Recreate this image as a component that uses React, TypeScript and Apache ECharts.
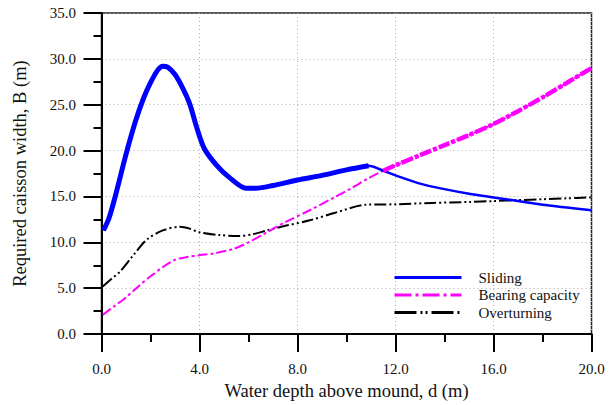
import React, { useEffect, useRef } from "react";
import * as echarts from "echarts";

const xTicks = [0, 4, 8, 12, 16, 20];
const yTicks = [0, 5, 10, 15, 20, 25, 30, 35];

const slidingData: [number, number][] = [
  [0.08, 11.3], [0.3, 12.6], [0.55, 14.9], [1.0, 19.6], [1.4, 23.3], [1.7, 25.6],
  [2.0, 27.4], [2.3, 28.8], [2.5, 29.2], [2.7, 29.1], [3.0, 28.3], [3.3, 26.9],
  [3.6, 25.1], [3.9, 22.4], [4.2, 20.2], [4.7, 18.4], [5.25, 17.0], [5.9, 15.9],
  [6.3, 15.9], [7.0, 16.2], [8.0, 16.8], [9.0, 17.3], [10.0, 17.9], [10.9, 18.35],
  [11.5, 17.8], [12.0, 17.3], [13.0, 16.4], [14.0, 15.8], [15.0, 15.3], [16.0, 14.9],
  [17.0, 14.5], [18.0, 14.1], [19.0, 13.8], [20.0, 13.5],
];

const bearingData: [number, number][] = [
  [0.05, 2.1], [0.5, 3.0], [1.0, 4.0], [1.5, 5.2], [2.0, 6.3], [2.5, 7.3], [3.0, 8.1],
  [3.5, 8.4], [4.0, 8.6], [4.6, 8.8], [5.4, 9.3], [6.0, 10.0], [6.75, 11.1], [7.5, 12.2],
  [8.5, 13.5], [9.5, 14.9], [10.2, 15.9], [10.9, 17.0], [11.5, 17.8], [12.0, 18.4],
  [13.0, 19.5], [14.0, 20.6], [15.0, 21.7], [16.0, 22.9], [17.0, 24.3], [18.0, 25.8],
  [19.0, 27.4], [20.0, 29.0],
];

const overturningData: [number, number][] = [
  [0.05, 5.2], [0.4, 6.0], [0.75, 6.8], [1.3, 8.6], [1.85, 10.3], [2.5, 11.3], [3.2, 11.7],
  [3.6, 11.5], [4.0, 11.1], [4.8, 10.8], [5.6, 10.7], [6.2, 10.9], [6.75, 11.3], [7.5, 11.8],
  [8.5, 12.4], [9.5, 13.2], [10.8, 14.1], [12.0, 14.15], [13.5, 14.3], [15.0, 14.4],
  [16.0, 14.5], [17.0, 14.6], [18.0, 14.7], [19.0, 14.8], [20.0, 14.9],
];

const slidingThickEnd = 10.9;
const bearingThickStart = 11.5;

const FONT = "Liberation Serif, Times New Roman, serif";

export default function App() {
  const ref = useRef<HTMLDivElement>(null);
  useEffect(() => {
    if (!ref.current) return;
    const chart = echarts.init(ref.current, undefined, { renderer: "svg" });
    const axisCommon = {
      axisLine: { show: true, onZero: false, lineStyle: { color: "#000", width: 2 } },
      axisTick: { show: true, inside: false, length: 18, lineStyle: { color: "#000", width: 2 } },
      minorTick: { show: true, splitNumber: 2, length: 8, lineStyle: { color: "#000", width: 2 } },
      splitLine: { show: true, lineStyle: { color: "#aaa", width: 1, type: [1, 3] } },
      axisLabel: {
        fontFamily: FONT,
        fontSize: 15,
        color: "#111",
        formatter: (v: number) => v.toFixed(1),
      },
      nameTextStyle: { fontFamily: FONT, fontSize: 18.5, color: "#111" },
      nameLocation: "middle" as const,
    };
    chart.setOption({
      animation: false,
      backgroundColor: "#fff",
      textStyle: { fontFamily: FONT },
      grid: {
        left: 101.5,
        right: 24.5,
        top: 13,
        bottom: 66.5,
        show: true,
        borderColor: "#222",
        borderWidth: 1.5,
        containLabel: false,
      },
      xAxis: {
        type: "value",
        min: xTicks[0],
        max: xTicks[xTicks.length - 1],
        interval: 4,
        name: "Water depth above mound, d (m)",
        nameGap: 44,
        ...axisCommon,
        axisLabel: { ...axisCommon.axisLabel, margin: 27 },
      },
      yAxis: {
        type: "value",
        min: yTicks[0],
        max: yTicks[yTicks.length - 1],
        interval: 5,
        name: "Required caisson width, B (m)",
        nameGap: 72,
        ...axisCommon,
        axisLabel: { ...axisCommon.axisLabel, margin: 25.5 },
      },
      legend: {
        orient: "vertical",
        left: 388,
        top: 265,
        itemWidth: 67,
        itemHeight: 12,
        itemGap: 2.5,
        data: [
          { name: "Sliding", lineStyle: { width: 3 } },
          { name: "Bearing capacity", lineStyle: { width: 3, type: [17, 4, 3, 4] } },
          { name: "Overturning", lineStyle: { width: 3, type: [22, 4, 2, 3, 2, 4] } },
        ],
        itemStyle: { color: "rgba(0,0,0,0)", borderColor: "rgba(0,0,0,0)", borderWidth: 0, opacity: 0 },
        textStyle: { fontFamily: FONT, fontSize: 15, color: "#111", padding: [0, 0, 0, 12] },
      },
      series: [
        {
          name: "Overturning",
          type: "line",
          data: overturningData,
          smooth: 0.3,
          symbol: "none",
          lineStyle: { color: "#000", width: 2, type: [12, 3, 2, 3, 2, 3] },
          itemStyle: { color: "#000" },
          z: 2,
        },
        {
          name: "Bearing capacity",
          type: "line",
          data: bearingData,
          smooth: 0.3,
          symbol: "none",
          lineStyle: { color: "#ff00ff", width: 2, type: [10, 3, 3, 3] },
          itemStyle: { color: "#ff00ff" },
          z: 3,
        },
        {
          name: "Sliding",
          type: "line",
          data: slidingData,
          smooth: 0.3,
          symbol: "none",
          lineStyle: { color: "#0000ff", width: 2.5 },
          itemStyle: { color: "#0000ff" },
          z: 4,
        },
        {
          name: "Sliding governing",
          type: "line",
          data: slidingData.filter((p) => p[0] <= slidingThickEnd),
          smooth: 0.3,
          symbol: "none",
          lineStyle: { color: "#0000ff", width: 5 },
          z: 5,
        },
        {
          name: "Bearing governing",
          type: "line",
          data: bearingData.filter((p) => p[0] >= bearingThickStart),
          smooth: 0.3,
          symbol: "none",
          lineStyle: { color: "#ff00ff", width: 4.5, type: [12, 2, 4, 2] },
          z: 6,
        },
      ],
    });
    return () => chart.dispose();
  }, []);
  return (
    <div
      ref={ref}
      style={{ position: "fixed", left: 0, top: 0, width: 616, height: 405 }}
    />
  );
}
